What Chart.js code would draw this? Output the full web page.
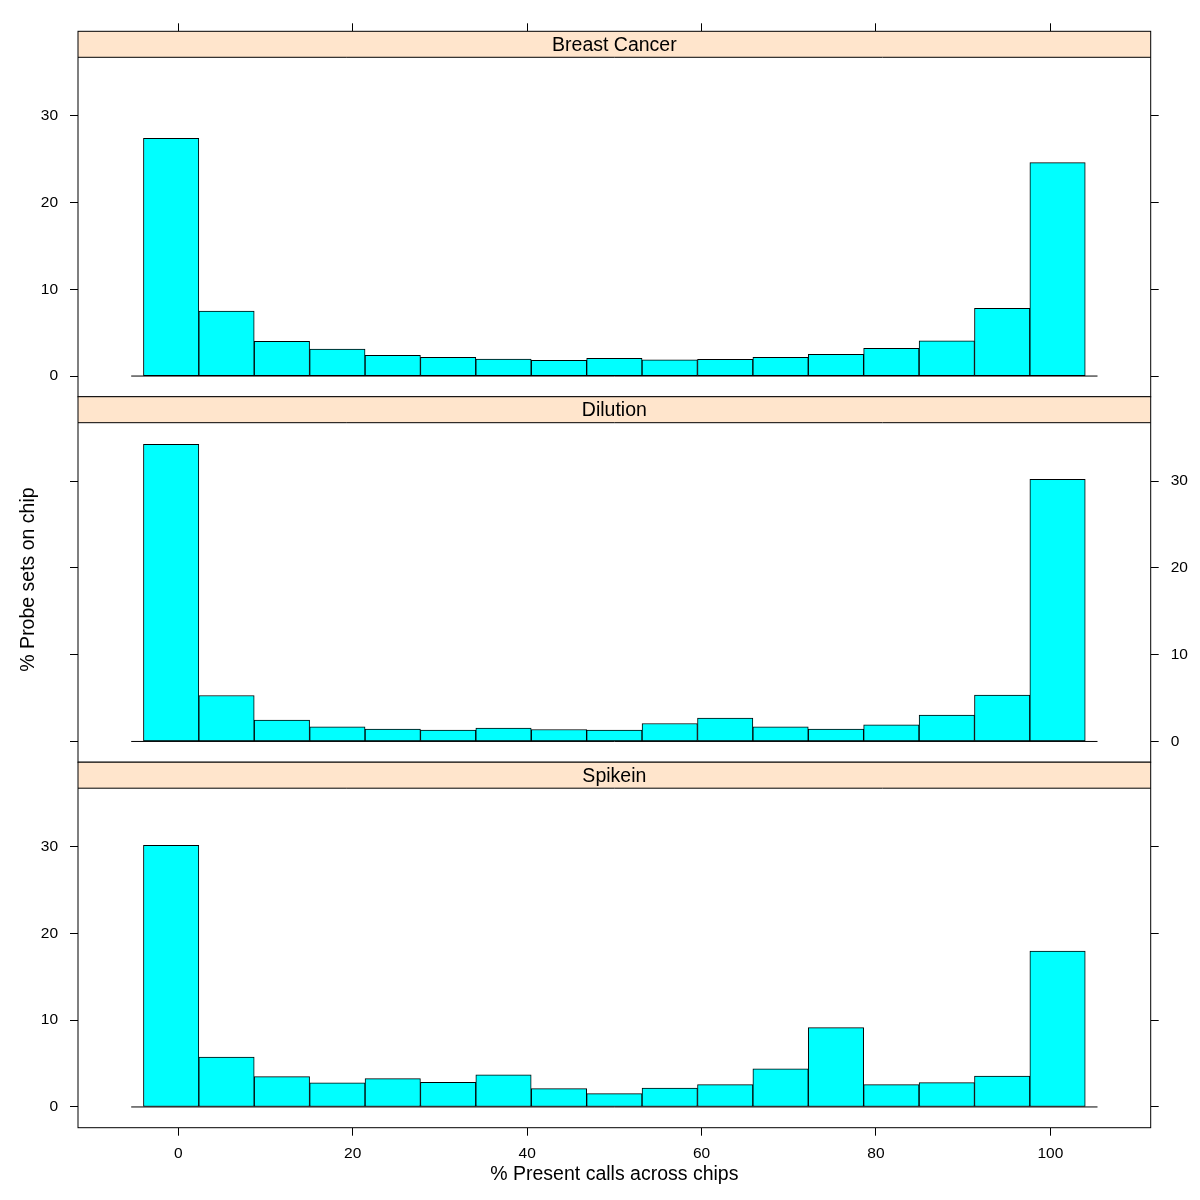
<!DOCTYPE html>
<html>
<head>
<meta charset="utf-8">
<script src="https://cdn.jsdelivr.net/npm/chart.js@4.4.1/dist/chart.umd.min.js"></script>
<style>
  body { margin: 0; background: #fff; }
  #wrap { position: relative; width: 1200px; height: 1200px; }
  #wrap canvas { position: absolute; left: 0; top: 0; }
</style>
</head>
<body>
<div id="wrap">
  <canvas id="p0" width="1200" height="1200"></canvas>
  <canvas id="p1" width="1200" height="1200"></canvas>
  <canvas id="p2" width="1200" height="1200"></canvas>
</div>
<script>
// histogram bins (centre of each bin, % present calls)
const binMids = [-0.82, 5.53, 11.88, 18.24, 24.59, 30.94, 37.29, 43.65, 50.0,
                 56.35, 62.71, 69.06, 75.41, 81.76, 88.12, 94.47, 100.82];

// % probe sets on chip, per panel
const breastCancer = [27.4, 7.5, 4.0, 3.1, 2.4, 2.15, 1.96, 1.81, 2.04, 1.88, 1.92, 2.15, 2.5, 3.2, 4.05, 7.8, 24.6];
const dilution     = [34.25, 5.3, 2.46, 1.69, 1.42, 1.3, 1.53, 1.38, 1.3, 2.07, 2.69, 1.69, 1.42, 1.92, 3.03, 5.34, 30.2];
const spikein      = [30.15, 5.76, 3.5, 2.77, 3.27, 2.85, 3.69, 2.12, 1.54, 2.19, 2.58, 4.38, 9.15, 2.58, 2.81, 3.57, 17.95];

const panelNames = ['Breast Cancer', 'Dilution', 'Spikein'];
const panelData = [breastCancer, dilution, spikein];

const xTicks = [0, 20, 40, 60, 80, 100];
const yTicks = [0, 10, 20, 30];
const refLineX = [-5.4, 105.4];

const FONT = '"Liberation Sans", Arial, Helvetica, sans-serif';
const STRIP_H = 26;
const panelTops = [31.3, 396.7, 762.2];
const PANEL_H = 365.5;
const LEFT = 78, RIGHT = 1150.7;

const stripPlugin = {
  id: 'strip',
  afterDatasetsDraw(chart, args, opts) {
    const { ctx, chartArea: a } = chart;
    ctx.save();
    ctx.fillStyle = '#FFE5CC';
    ctx.fillRect(a.left, a.top, a.right - a.left, STRIP_H);
    ctx.strokeStyle = '#000';
    ctx.lineWidth = 1;
    ctx.beginPath();
    ctx.moveTo(a.left, a.top + STRIP_H);
    ctx.lineTo(a.right, a.top + STRIP_H);
    ctx.stroke();
    ctx.strokeRect(a.left, a.top, a.right - a.left, a.bottom - a.top);
    ctx.fillStyle = '#000';
    ctx.font = '19.5px ' + FONT;
    ctx.textAlign = 'center';
    ctx.textBaseline = 'middle';
    ctx.fillText(opts.label, (a.left + a.right) / 2, a.top + STRIP_H / 2 + 1);
    if (opts.titles) {
      ctx.fillText('% Present calls across chips', (a.left + a.right) / 2, 1175);
      ctx.translate(28.5, 579.5);
      ctx.rotate(-Math.PI / 2);
      ctx.fillText('% Probe sets on chip', 0, 0);
    }
    ctx.restore();
  }
};

function yAxis(pos, showLabels) {
  return {
    type: 'linear', position: pos, min: -2.39, max: 39.73,
    afterBuildTicks: s => { s.ticks = yTicks.map(v => ({ value: v })); },
    afterFit: s => { s.width = pos === 'left' ? LEFT : 1200 - RIGHT; },
    grid: { drawOnChartArea: false, drawTicks: true, tickLength: 8, color: '#000' },
    border: { display: false },
    ticks: {
      padding: 12, color: '#000', font: { family: FONT, size: 15.5 },
      callback: v => showLabels ? String(v) : ''
    }
  };
}

// x axis: ticks above the top strip, labels under the bottom panel only
function xAxis(i, top) {
  return {
    type: 'linear', position: i === 0 ? 'top' : 'bottom', min: -11.5, max: 111.5,
    offset: false,
    display: i !== 1,
    afterBuildTicks: s => { s.ticks = xTicks.map(v => ({ value: v })); },
    afterFit: s => {
      if (i === 0) s.height = top;
      else if (i === 2) s.height = 1200 - (top + PANEL_H);
      else s.height = 0;
    },
    grid: { drawOnChartArea: false, drawTicks: true, tickLength: 8, color: '#000', offset: false },
    border: { display: false },
    ticks: {
      padding: 9, color: '#000', font: { family: FONT, size: 15.5 }, maxRotation: 0,
      callback: v => i === 2 ? String(v) : ''
    }
  };
}

panelNames.forEach((name, i) => {
  const top = panelTops[i];
  const bottomGap = 1200 - (top + PANEL_H);
  new Chart(document.getElementById('p' + i), {
    type: 'bar',
    data: {
      datasets: [{
        type: 'bar',
        data: binMids.map((x, k) => ({ x: x, y: panelData[i][k] })),
        backgroundColor: '#00FFFF',
        borderColor: '#000',
        borderWidth: 1,
        borderSkipped: false,
        barPercentage: 1,
        categoryPercentage: 1,
        xAxisID: 'x', yAxisID: 'y'
      }, {
        type: 'line',
        data: refLineX.map(x => ({ x: x, y: 0 })),
        borderColor: '#000',
        borderWidth: 1,
        pointRadius: 0,
        xAxisID: 'x', yAxisID: 'y'
      }]
    },
    options: {
      responsive: false,
      animation: false,
      devicePixelRatio: 1,
      layout: { padding: {
        left: 0, right: 0,
        top: i === 0 ? 0 : top,
        bottom: i === 2 ? 0 : bottomGap
      } },
      plugins: {
        legend: { display: false },
        tooltip: { enabled: false },
        strip: { label: name, titles: i === 2 }
      },
      scales: {
        x: xAxis(i, top),
        y: yAxis('left', i !== 1),
        y2: yAxis('right', i === 1)
      }
    },
    plugins: [stripPlugin]
  });
});
</script>
</body>
</html>
